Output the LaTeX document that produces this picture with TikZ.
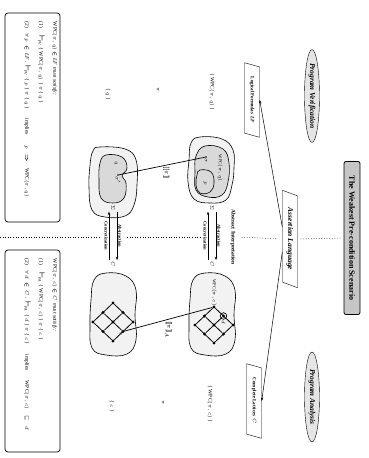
\documentclass[tikz,border=0pt]{standalone}
\usepackage{amsmath,amssymb,bm}
\usepackage{fontspec}
\setmainfont{Liberation Serif}
\usetikzlibrary{arrows.meta,positioning,shapes.geometric,calc}
\tikzset{
  titlebox/.style={draw,thick,rounded corners=2pt,fill=gray!45,minimum width=153,minimum height=16,inner sep=1pt,font=\fontsize{8}{9}\selectfont\bfseries},
  goal/.style={draw,ellipse,fill=gray!20,minimum width=90,minimum height=15,inner sep=0pt,font=\fontsize{7.5}{8}\selectfont\bfseries\itshape},
  lang/.style={draw,trapezium,trapezium left angle=65,trapezium right angle=115,trapezium stretches=true,fill=white,minimum width=98,minimum height=15,inner sep=1pt,font=\fontsize{7.5}{8}\selectfont\bfseries\itshape},
  dom/.style={lang,minimum width=75,font=\fontsize{5}{6}\selectfont\bfseries},
  hoare/.style={font=\fontsize{5.5}{6}\selectfont,inner sep=1pt},
  info/.style={draw,rounded corners=3pt,line width=0.7pt,minimum width=209,minimum height=55},
  infotext/.style={align=left,inner sep=0pt,font=\fontsize{5.5}{14}\selectfont},
  arr/.style={-{Stealth[length=3.5pt,width=2.5pt]},line width=0.5pt},
  divider/.style={dotted,line width=0.6pt},
  blob/.style={draw,line width=0.6pt,fill=gray!10},
  inblob/.style={draw,line width=0.6pt,fill=gray!30},
  st/.style={circle,fill=black,inner sep=0pt,minimum size=1.8pt},
  lnode/.style={circle,fill=black,inner sep=0pt,minimum size=3.4pt},
  lbl/.style={font=\fontsize{4.5}{5}\selectfont\bfseries,inner sep=1pt},
  mini/.style={font=\fontsize{4.5}{5}\selectfont,inner sep=1pt},
  semlbl/.style={font=\fontsize{6.5}{7}\selectfont,inner sep=1.5pt}
}
\newcommand{\wpc}[1]{\mathrm{WPC}(\pi,#1)}
\newcommand{\sem}{\bm{[\![}\pi\bm{]\!]}}
\newcommand{\prv}[1]{{\fontsize{8}{8}\selectfont$\bm{\vdash}$}$_{\!\mathit{#1}}$}

\begin{document}
\begin{tikzpicture}[x=1pt,y=1pt]
\begin{scope}[rotate=-90,transform shape]
\useasboundingbox (0,0) rectangle (458,369);
\node[titlebox] (ttl) at (238,352) {The Weakest Pre-condition Scenario};
\node[goal] (pv) at (96,312) {Program Verification};
\node[goal] (pa) at (397,312) {Program Analysis};
\node[lang] (al) at (239,290) {Assertion Language};
\node[dom] (lf) at (100,252) {Logical Formulas\enspace\textit{LF}};
\node[dom] (cl) at (401,254) {Complete Lattices\enspace$C$};
\draw[arr] ($(al.south)+(-12,0)$) -- (lf.north);
\draw[arr] ($(al.south)+(13,0)$) -- (cl.north);
\node[hoare] (qpre) at (92,212) {\{ $\wpc{q}$ \}};
\node[hoare] (qprog) at (90,158) {$\pi$};
\node[hoare] (qpost) at (94,108) {\{ $q$ \}};
\node[hoare] (cpre) at (404,210) {\{ $\wpc{c}$ \}};
\node[hoare] (cprog) at (403,163) {$\pi$};
\node[hoare] (cpost) at (406,112) {\{ $c$ \}};
\draw[blob] plot[smooth cycle,tension=0.7] coordinates {(137,200) (139,222) (150,233) (168,234) (185,232) (200,226) (203,210) (199,194) (182,188) (160,189) (143,191)};
\draw[inblob] plot[smooth cycle,tension=0.7] coordinates {(146,205) (149,223) (163,229) (182,228) (195,222) (197,208) (190,196) (172,195) (156,196)};
\draw[inblob] plot[smooth cycle,tension=0.7] coordinates {(170,200) (172,211) (183,214) (192,210) (193,200) (185,196) (175,197)};
\node[mini] (wq) at (168,220) {$\wpc{q}$};
\node[mini] (pl) at (183,205) {$p$};
\node[st] (sw) at (157,206) {};
\node[mini,right] at (sw) {$\sigma$};
\draw[blob] plot[smooth cycle,tension=0.7] coordinates {(147,100) (149,125) (160,136) (185,137) (205,134) (216,125) (217,105) (210,92) (188,89) (165,90) (151,93)};
\draw[inblob] plot[smooth cycle,tension=0.7] coordinates {(155,106) (157,122) (168,127) (176,122) (183,126) (198,124) (203,113) (198,101) (180,99) (163,100)};
\node[mini] (ql) at (163,116) {$q$};
\node[st] (sq) at (175,118) {};
\node[mini,right] at (sq) {$\sigma'$};
\draw[line width=0.7pt] (sq) -- node[semlbl,right,pos=0.55] {$\sem$} (sw);
\draw[blob] plot[smooth cycle,tension=0.7] coordinates {(273,205) (276,225) (290,235) (315,234) (340,235) (354,226) (355,205) (348,191) (325,189) (300,190) (280,193)};
\draw[blob] plot[smooth cycle,tension=0.7] coordinates {(273,106) (276,126) (290,136) (315,135) (340,136) (354,127) (355,106) (348,92) (325,90) (300,91) (280,94)};
\foreach \i in {0,1,2}
  \foreach \j in {0,1,2} {
    \node[lnode] (u\i\j) at ($(307,214)+\i*(9,9.5)+\j*(9,-9.5)$) {};
    \node[lnode] (l\i\j) at ($(303,113)+\i*(9.5,10)+\j*(9.5,-10)$) {};
  }
\foreach \a/\b in {00/20,01/21,02/22,00/02,10/12,20/22} {
  \draw[line width=0.8pt] (u\a) -- (u\b);
  \draw[line width=0.8pt] (l\a) -- (l\b);
}
\node[draw,circle,minimum size=6.5pt,inner sep=0pt,line width=0.7pt] (dring) at (u10) {};
\node[mini,right] at (dring.east) {$d$};
\node[mini,left] (wc) at (u00) {$\wpc{c}$};
\node[mini,below right] at (l21) {$c$};
\draw[line width=0.7pt] (l21) -- node[semlbl,right,pos=0.5] {$\sem_A$} (u00);
\node[mini] (sigl) at (208,113) {$\Sigma$};
\node[mini] (cal) at (264,113) {$C$};
\draw[arr] ($(sigl.east)+(0,4)$) -- node[lbl,above] {Abstraction} ($(cal.west)+(0,4)$);
\draw[arr] ($(cal.west)+(0,-4)$) -- node[lbl,below] {Concretization} ($(sigl.east)+(0,-4)$);
\node[mini] (sigu) at (208,212) {$\Sigma$};
\node[mini] (cau) at (264,212) {$C$};
\draw[arr] ($(sigu.east)+(0,4)$) -- node[lbl,above] {Abstraction} ($(cau.west)+(0,4)$);
\draw[arr] ($(cau.west)+(0,-4)$) -- node[lbl,below] {Concretization} ($(sigu.east)+(0,-4)$);
\node[lbl,font=\fontsize{5.5}{6}\selectfont\bfseries] (ai) at (237,233) {Abstract Interpretation};
\coordinate (d0) at (237,0);
\coordinate (d1) at (237,99);
\coordinate (d2) at (237,127);
\coordinate (d3) at (237,201);
\draw[divider] (d0) -- (d1);
\draw[divider] (d2) -- (d3);
\draw[divider,shorten <=5pt,shorten >=6pt] (ai.north) -- (al.south);
\draw[divider,shorten <=3pt,shorten >=2pt] (al.north) -- (ttl.south);
\node[info] (lfbox) at (117.5,32.5) {};
\node[info,minimum width=202] (clbox) at (351,32.5) {};
\node[infotext,anchor=north west] (lftext) at ($(lfbox.north west)+(9,-3)$) {%
$\wpc{q}$ $\bm{\in}$ \textit{LF\enspace must satisfy:}\\
(1)\hspace{7pt}\prv{PV}\enspace\{ $\wpc{q}$ \} $\pi$ \{ $q$ \}\\
(2)\hspace{5pt}$\forall\,p\,\bm{\in}\,\mathit{LF}$ .\enspace \prv{PV}\enspace\{ $p$ \} $\pi$ \{ $q$ \}\hspace{10pt}implies\hspace{10pt}$p$\hspace{6pt}$\bm{\Rightarrow}$\hspace{6pt}$\wpc{q}$};
\node[infotext,anchor=north west] (cltext) at ($(clbox.north west)+(9,-3)$) {%
$\wpc{c}$ $\bm{\in}$ $C$\enspace\textit{must satisfy:}\\
(1)\hspace{7pt}\prv{PA}\enspace\{ $\wpc{c}$ \} $\pi$ \{ $c$ \}\\
(2)\hspace{5pt}$\forall\,d\,\bm{\in}\,C$ .\enspace \prv{PA}\enspace\{ $d$ \} $\pi$ \{ $c$ \}\hspace{10pt}implies\hspace{10pt}$\wpc{c}$\hspace{6pt}$\sqsubseteq$\hspace{6pt}$d$};
\end{scope}
\end{tikzpicture}
\end{document}
